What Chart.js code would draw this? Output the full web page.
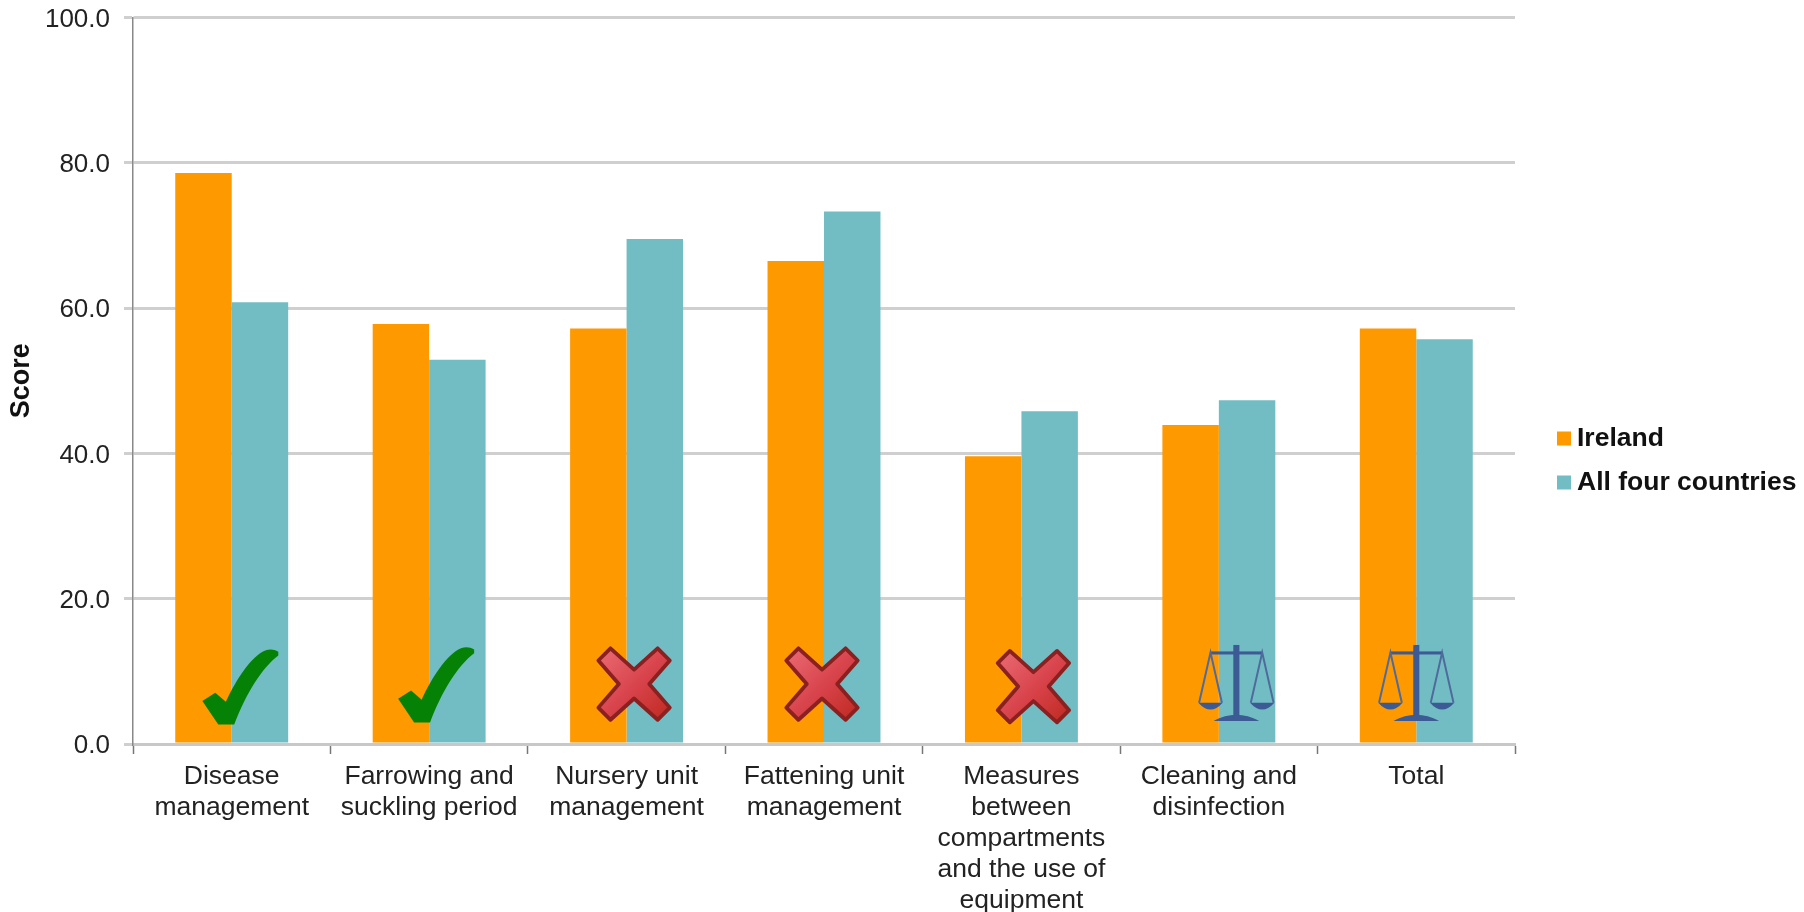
<!DOCTYPE html>
<html lang="en">
<head>
  <meta charset="UTF-8">
  <title>Biosecurity scores</title>
  <script src="https://cdn.jsdelivr.net/npm/chart.js"></script>
  <style>
    html, body { margin: 0; background: #fff; }
    canvas { display: block; }
  </style>
</head>
<body>
  <canvas id="scoreChart" width="1804" height="912"></canvas>

  <script>
    const categories = [
      ['Disease', 'management'],
      ['Farrowing and', 'suckling period'],
      ['Nursery unit', 'management'],
      ['Fattening unit', 'management'],
      ['Measures', 'between', 'compartments', 'and the use of', 'equipment'],
      ['Cleaning and', 'disinfection'],
      'Total'
    ];
    const irelandScores = [78.6, 57.8, 57.2, 66.5, 39.6, 43.9, 57.2];
    const allCountriesScores = [60.8, 52.9, 69.5, 73.3, 45.8, 47.3, 55.7];

    // comparison symbol under each group, nudged sideways from the category centre
    const symbols = ['check', 'check', 'cross', 'cross', 'cross', 'scales', 'scales'];
    const symbolShift = [8.6, 7, 7.5, -2, 12, 17.5, 0];
    const symbolLevel = [7.9, 8.2, 8.25, 8.25, 7.9, 8.4, 8.4];

    const FONT = '"Liberation Sans", Arial, sans-serif';

    function drawCheck(ctx) {
      ctx.fillStyle = '#058205';
      ctx.beginPath();
      ctx.moveTo(0, 69);
      ctx.lineTo(17, 58);
      ctx.lineTo(31, 70);
      ctx.bezierCurveTo(37, 56, 56, 20, 76, 6);
      ctx.bezierCurveTo(83, 1, 92, -1, 100, 4);
      ctx.lineTo(100, 9);
      ctx.bezierCurveTo(78, 26, 58, 58, 42, 100);
      ctx.lineTo(21, 100);
      ctx.closePath();
      ctx.fill();
    }

    function drawCross(ctx) {
      const grad = ctx.createLinearGradient(5, 5, 95, 95);
      grad.addColorStop(0, '#ea6a72');
      grad.addColorStop(0.5, '#d9454d');
      grad.addColorStop(1, '#c02a22');
      ctx.fillStyle = grad;
      ctx.strokeStyle = '#8a2020';
      ctx.lineWidth = 5;
      ctx.lineJoin = 'round';
      ctx.beginPath();
      ctx.moveTo(19, 3);
      ctx.lineTo(50, 31);
      ctx.lineTo(81, 3);
      ctx.lineTo(97, 19);
      ctx.lineTo(70, 50);
      ctx.lineTo(97, 81);
      ctx.lineTo(81, 97);
      ctx.lineTo(50, 69);
      ctx.lineTo(19, 97);
      ctx.lineTo(3, 81);
      ctx.lineTo(30, 50);
      ctx.lineTo(3, 19);
      ctx.closePath();
      ctx.fill();
      ctx.stroke();
    }

    function drawScales(ctx) {
      ctx.strokeStyle = '#4f6b9c';
      ctx.fillStyle = '#3c5a94';
      // post and beam
      ctx.fillRect(46, 0, 8, 96);
      ctx.fillRect(16, 8.5, 68, 4);
      // base
      ctx.beginPath();
      ctx.moveTo(20, 100);
      ctx.bezierCurveTo(30, 94, 40, 92, 50, 92);
      ctx.bezierCurveTo(60, 92, 70, 94, 80, 100);
      ctx.closePath();
      ctx.fill();
      // hanging strings and pans
      ctx.lineWidth = 2.6;
      [[16, 0, 32], [84, 68, 100]].forEach(([top, left, right]) => {
        ctx.beginPath();
        ctx.moveTo(left + 1, 76);
        ctx.lineTo(top, 10);
        ctx.lineTo(right - 1, 76);
        ctx.stroke();
        ctx.beginPath();
        ctx.moveTo(left, 76);
        ctx.lineTo(right, 76);
        ctx.quadraticCurveTo((left + right) / 2, 94, left, 76);
        ctx.fill();
      });
    }

    const painters = { check: drawCheck, cross: drawCross, scales: drawScales };

    const symbolPlugin = {
      id: 'symbols',
      afterDatasetsDraw(chart) {
        const { ctx, scales: { x, y } } = chart;
        const size = 76;
        symbols.forEach((kind, i) => {
          const cx = x.getPixelForValue(i) + symbolShift[i];
          const cy = y.getPixelForValue(symbolLevel[i]);
          ctx.save();
          ctx.translate(cx - size / 2, cy - size / 2);
          ctx.scale(size / 100, size / 100);
          painters[kind](ctx);
          ctx.restore();
        });
      }
    };

    // legend is painted by hand so the swatch can sit close to its text
    const legendPlugin = {
      id: 'sideLegend',
      afterDraw(chart) {
        const { ctx } = chart;
        ctx.save();
        ctx.font = 'bold 26.5px ' + FONT;
        ctx.textBaseline = 'middle';
        chart.data.datasets.forEach((ds, i) => {
          const rowY = 438.5 + i * 44;
          ctx.fillStyle = ds.backgroundColor;
          ctx.fillRect(1557, rowY - 7, 14, 14);
          ctx.fillStyle = '#111';
          ctx.fillText(ds.label, 1577, rowY);
        });
        ctx.restore();
      }
    };

    new Chart(document.getElementById('scoreChart').getContext('2d'), {
      type: 'bar',
      data: {
        labels: categories,
        datasets: [
          { label: 'Ireland', data: irelandScores, backgroundColor: '#ff9900' },
          { label: 'All four countries', data: allCountriesScores, backgroundColor: '#72bdc4' }
        ]
      },
      plugins: [symbolPlugin, legendPlugin],
      options: {
        responsive: false,
        animation: false,
        layout: { padding: { top: 17.5, right: 289, left: 0, bottom: 0 } },
        datasets: { bar: { categoryPercentage: 0.572, barPercentage: 1 } },
        plugins: {
          title: { display: false },
          tooltip: { enabled: false },
          legend: { display: false }
        },
        scales: {
          x: {
            grid: { drawOnChartArea: false, drawTicks: true, tickLength: 10, tickColor: '#777', tickWidth: 1.5 },
            border: { color: '#c8c8c8', width: 3 },
            ticks: {
              color: '#222',
              maxRotation: 0,
              autoSkip: false,
              padding: 7,
              font: { family: FONT, size: 26.5, lineHeight: 1.17 }
            },
            afterFit(scale) { scale.height = 168; }
          },
          y: {
            min: 0,
            max: 100,
            grid: { color: '#cfcfcf', lineWidth: 3, tickLength: 9, tickColor: '#cfcfcf' },
            border: { color: '#888', width: 1.5 },
            ticks: {
              stepSize: 20,
              color: '#222',
              padding: 14,
              labelOffset: 2,
              font: { family: FONT, size: 26 },
              callback: value => value.toFixed(1)
            },
            title: {
              display: true,
              text: 'Score',
              color: '#111',
              padding: { top: 5, bottom: 0 },
              font: { family: FONT, size: 27, weight: 'bold' }
            },
            afterFit(scale) {
              scale.width = 133;
              // let the top tick label overhang instead of pushing the plot down
              scale.paddingTop = 0;
              scale.paddingBottom = 0;
            }
          }
        }
      }
    });
  </script>
</body>
</html>
